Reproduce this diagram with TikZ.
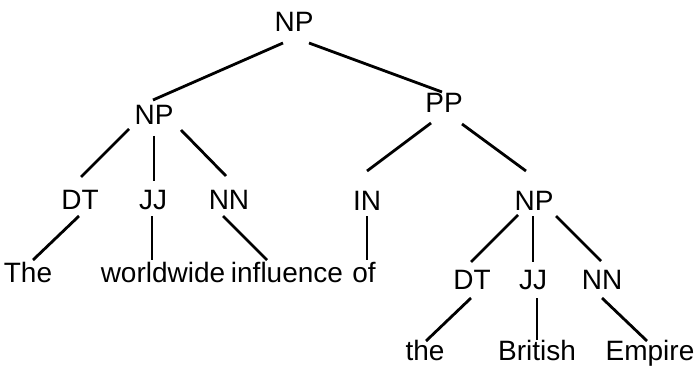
\documentclass[tikz,border=0pt]{standalone}
\usepackage{fontspec}
\setmainfont{Liberation Sans}
\begin{document}
\begin{tikzpicture}[x=1pt,y=-1pt,
  lbl/.style={anchor=base,inner sep=0pt,font=\fontsize{28}{33}\selectfont},
  branch/.style={line width=2.8pt,black}]
\useasboundingbox (0,0) rectangle (695,366);
% phrase and tag labels
\node[lbl] (root) at (294,32) {NP};
\node[lbl] (np1)  at (154,125) {NP};
\node[lbl] (pp)   at (444,113) {PP};
\node[lbl] (dt1)  at (80,209)  {DT};
\node[lbl] (jj1)  at (153,209) {JJ};
\node[lbl] (nn1)  at (229,209) {NN};
\node[lbl] (in)   at (367,210) {IN};
\node[lbl] (np2)  at (534,210) {NP};
\node[lbl] (dt2)  at (472,289) {DT};
\node[lbl] (jj2)  at (533,289) {JJ};
\node[lbl] (nn2)  at (602,289) {NN};
% words
\node[lbl] (w1) at (28,282)  {The};
\node[lbl] (w2) at (163,282) {worldwide};
\node[lbl] (w3) at (287,282) {influence};
\node[lbl] (w4) at (364,282) {of};
\node[lbl] (w5) at (425,360) {the};
\node[lbl] (w6) at (537,360) {British};
\node[lbl] (w7) at (650,360) {Empire};
% branches
\draw[branch] ([shift={(-11,11)}]root.base) -- ([shift={(-1,-25)}]np1.base);
\draw[branch] ([shift={(15,11)}]root.base)  -- ([shift={(-2,-21)}]pp.base);
\draw[branch] ([shift={(-25,4)}]np1.base)   -- ([shift={(1,-32)}]dt1.base);
\draw[branch] ([shift={(0,11)}]np1.base)    -- ([shift={(1,-28)}]jj1.base);
\draw[branch] ([shift={(27,5)}]np1.base)    -- ([shift={(-3,-33)}]nn1.base);
\draw[branch] ([shift={(-13,10)}]pp.base)   -- ([shift={(0,-39)}]in.base);
\draw[branch] ([shift={(18,11)}]pp.base)    -- ([shift={(-8,-39)}]np2.base);
\draw[branch] ([shift={(-1,7)}]dt1.base)    -- ([shift={(5,-22)}]w1.base);
\draw[branch] ([shift={(-1,7)}]jj1.base)    -- ([shift={(-11,-22)}]w2.base);
\draw[branch] ([shift={(-6,7)}]nn1.base)    -- ([shift={(-20,-22)}]w3.base);
\draw[branch] ([shift={(0,6)}]in.base)      -- ([shift={(3,-22)}]w4.base);
\draw[branch] ([shift={(-16,5)}]np2.base)   -- ([shift={(-1,-27)}]dt2.base);
\draw[branch] ([shift={(-1,6)}]np2.base)    -- ([shift={(0,-27)}]jj2.base);
\draw[branch] ([shift={(22,6)}]np2.base)    -- ([shift={(-1,-28)}]nn2.base);
\draw[branch] ([shift={(-1,9)}]dt2.base)    -- ([shift={(1,-19)}]w5.base);
\draw[branch] ([shift={(4,9)}]jj2.base)     -- ([shift={(0,-20)}]w6.base);
\draw[branch] ([shift={(0,9)}]nn2.base)     -- ([shift={(-3,-19)}]w7.base);
\end{tikzpicture}
\end{document}
